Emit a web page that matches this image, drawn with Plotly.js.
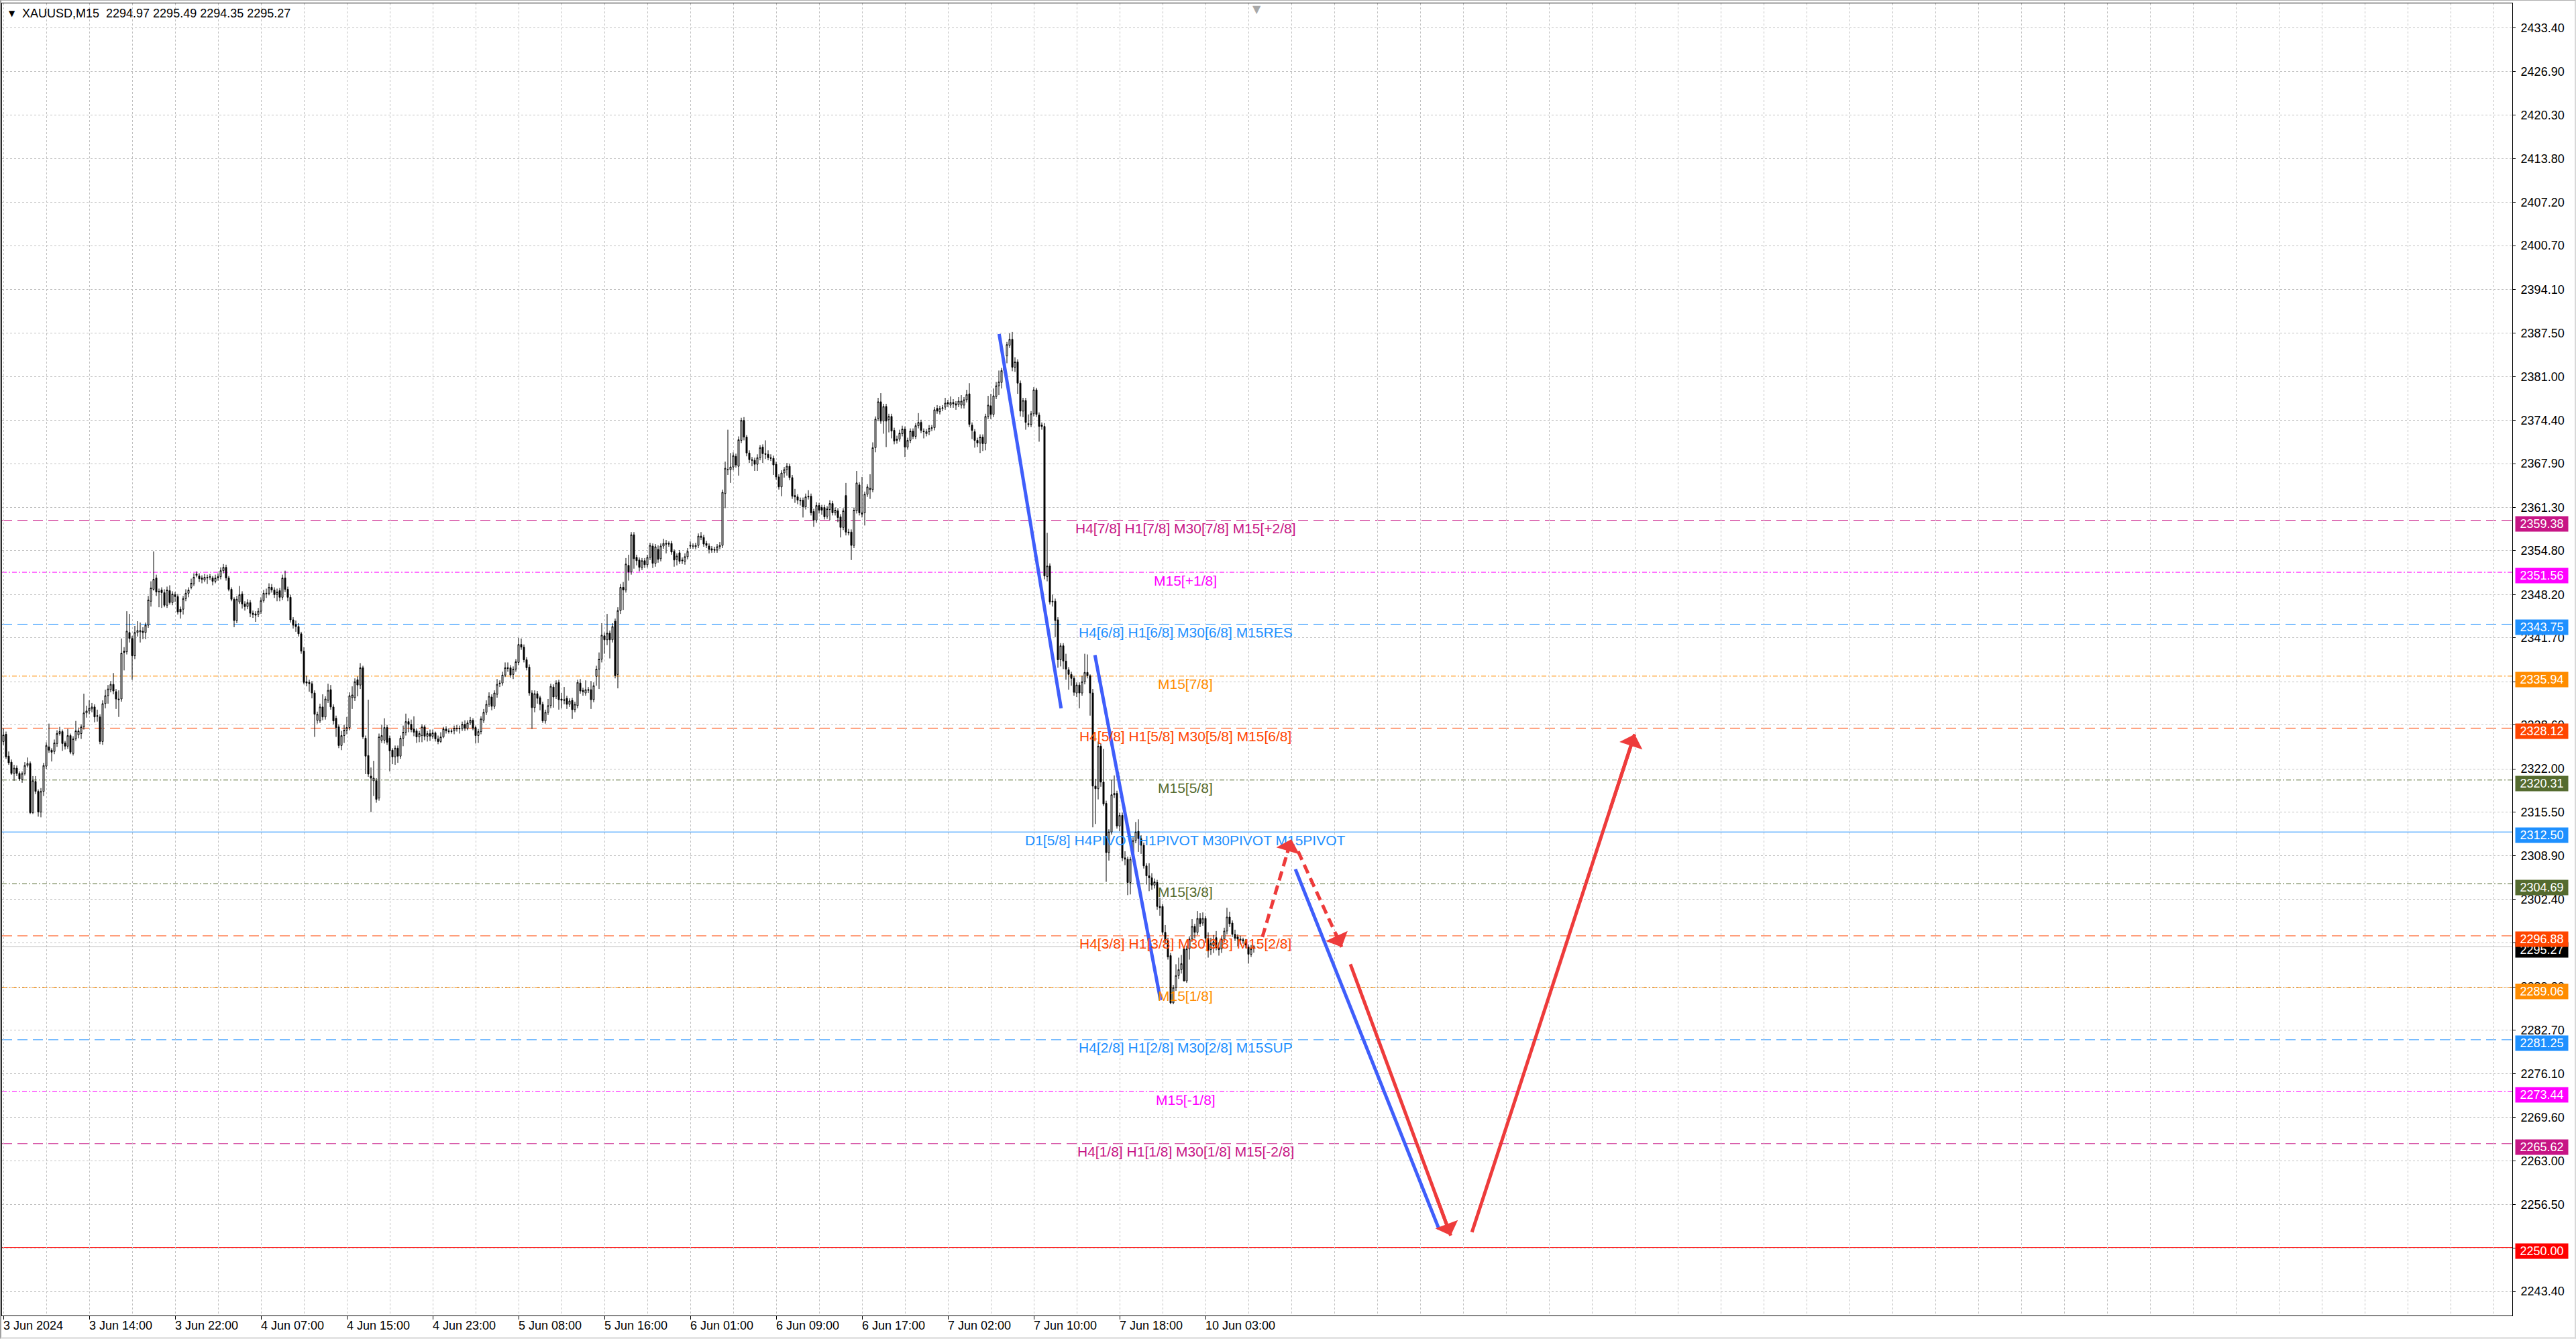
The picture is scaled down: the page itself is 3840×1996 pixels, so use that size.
<!DOCTYPE html>
<html>
<head>
<meta charset="utf-8">
<script src="https://cdn.plot.ly/plotly-3.0.1.min.js"></script>
<style>
  html, body { margin: 0; padding: 0; background: #ffffff; }
  #wrap { position: relative; width: 3840px; height: 1996px; }
  #chart { width: 3840px; height: 1996px; }
  #frame { position: absolute; left: 0; top: 0; width: 3840px; height: 1996px; box-sizing: border-box;
    border-left: 2px solid #a0a0a0; border-top: 1px solid #b0b0b0; border-right: 2px solid #d8d8d8;
    border-bottom: 3px solid #e4e4e4; pointer-events: none; }
</style>
</head>
<body>
<div id="wrap"><div id="chart"></div><div id="frame"></div></div>
<script>
// XAUUSD M15 bars (bar 0 = 3 Jun 2024 06:00)
var opens = [
  2326.1, 2327.2, 2323.9, 2323.0, 2321.3, 2322.1, 2321.3, 2320.4, 2321.3, 2322.5,
  2322.8, 2315.4, 2320.1, 2318.6, 2315.5, 2318.6, 2322.4, 2325.3, 2324.8, 2324.6,
  2325.8, 2327.3, 2327.6, 2325.9, 2325.4, 2327.0, 2324.3, 2326.5, 2327.1, 2327.3,
  2328.3, 2330.4, 2330.7, 2331.0, 2331.3, 2330.0, 2329.8, 2326.1, 2331.8, 2333.0,
  2333.9, 2334.7, 2333.6, 2332.5, 2332.5, 2339.7, 2339.6, 2342.5, 2341.6, 2339.0,
  2342.5, 2342.6, 2342.7, 2342.5, 2343.6, 2347.2, 2349.0, 2350.7, 2348.7, 2348.9,
  2348.5, 2346.6, 2348.8, 2347.0, 2348.2, 2347.9, 2346.0, 2346.0, 2347.6, 2348.4,
  2349.3, 2349.8, 2351.1, 2351.0, 2350.7, 2350.4, 2350.8, 2350.8, 2350.7, 2350.2,
  2350.7, 2350.9, 2351.8, 2352.3, 2350.7, 2349.0, 2347.5, 2344.3, 2347.1, 2348.3,
  2346.8, 2346.4, 2347.0, 2345.4, 2345.3, 2345.2, 2345.7, 2347.3, 2348.3, 2348.4,
  2349.3, 2348.9, 2348.2, 2348.8, 2347.8, 2350.7, 2349.0, 2347.8, 2344.4, 2343.7,
  2343.4, 2342.3, 2339.7, 2335.1, 2335.0, 2334.8, 2333.4, 2329.3,
  2329.2, 2331.3, 2329.8, 2332.3, 2333.9, 2331.3, 2329.6, 2328.3, 2325.5, 2327.0,
  2327.8, 2328.2, 2332.7, 2332.7, 2335.4, 2334.6, 2337.2, 2326.6, 2324.0, 2320.9,
  2320.2, 2320.2, 2317.6, 2326.3, 2326.3, 2328.2, 2326.6, 2324.8, 2323.8, 2325.1,
  2323.9, 2326.6, 2327.5, 2329.1, 2328.7, 2328.0, 2327.7, 2326.8, 2327.0, 2328.3,
  2326.9, 2327.3, 2326.9, 2327.4, 2326.5, 2326.1, 2326.8, 2328.0, 2327.7, 2327.6,
  2327.7, 2328.0, 2328.1, 2328.0, 2328.7, 2328.1, 2328.9, 2329.3, 2328.2, 2327.0,
  2327.6, 2329.3, 2330.5, 2331.7, 2332.8, 2331.4, 2333.2, 2334.9, 2334.9, 2336.1,
  2337.2, 2337.2, 2336.2, 2337.0, 2338.0, 2340.7, 2340.3, 2338.4, 2337.3, 2333.4,
  2331.2, 2333.3, 2332.7, 2331.7, 2329.2, 2330.5, 2331.5, 2334.3, 2332.9, 2335.0,
  2332.5, 2332.4, 2332.6, 2331.7, 2332.3, 2330.9, 2331.5, 2334.9, 2333.8, 2333.4,
  2333.8, 2333.9, 2332.4, 2335.9, 2337.0, 2338.5, 2342.0, 2341.4, 2342.4, 2341.4,
  2344.2, 2336.2, 2345.8, 2349.3, 2348.9, 2352.6, 2351.6, 2357.2, 2353.8, 2353.4,
  2352.3, 2353.3, 2352.7, 2353.8, 2355.5, 2352.9, 2355.0, 2353.6, 2355.5, 2355.9,
  2355.9, 2355.9, 2354.7, 2353.5, 2354.5, 2353.4, 2353.2, 2353.9, 2355.6, 2355.5,
  2355.4, 2355.6, 2357.0, 2356.8, 2355.9, 2355.5, 2355.1, 2355.0, 2354.9, 2355.4,
  2355.6, 2363.4, 2367.0, 2367.0, 2367.4, 2369.0, 2367.5, 2371.4, 2374.4, 2371.9,
  2369.5, 2368.5, 2368.4, 2367.8, 2368.8, 2370.4, 2369.4, 2369.3, 2368.8, 2368.7,
  2367.8, 2365.9, 2364.4, 2366.5, 2367.0, 2367.5, 2365.8, 2363.1, 2362.9, 2362.4,
  2362.4, 2361.4, 2363.0, 2363.0, 2360.7, 2359.4, 2361.6, 2361.3, 2361.3, 2360.0,
  2361.0, 2361.9, 2360.5, 2360.8, 2359.9, 2358.3, 2363.1, 2357.6, 2357.6, 2355.6,
  2360.8, 2364.7, 2360.5, 2360.5, 2363.3, 2364.0, 2364.0, 2370.3, 2374.7, 2377.2,
  2374.3, 2376.5, 2374.5, 2375.0, 2372.9, 2371.4, 2371.6, 2372.4, 2373.1, 2370.4,
  2371.4, 2372.8, 2372.0, 2373.6, 2374.1, 2372.8, 2372.4, 2372.7, 2373.2, 2373.3,
  2376.2, 2375.7, 2376.2, 2376.4, 2377.1, 2376.7, 2377.1, 2376.9, 2376.8, 2376.7,
  2376.7, 2377.5, 2378.4, 2373.7, 2372.7, 2371.4, 2371.0, 2371.9, 2370.9, 2375.0,
  2376.6, 2375.3, 2378.0, 2379.6, 2380.1, 2381.9, 2384.1, 2385.7, 2386.6, 2382.4,
  2383.2, 2380.0, 2375.8, 2377.4, 2373.9, 2373.8, 2375.4, 2379.0, 2375.2, 2373.7,
  2373.5, 2350.9, 2352.5, 2347.1, 2347.2, 2344.4, 2338.4, 2340.5, 2338.2, 2336.9,
  2336.2, 2335.6, 2333.4, 2334.6, 2333.4, 2335.1, 2336.5, 2336.0, 2333.4, 2319.4,
  2319.0, 2325.4, 2320.0, 2316.8, 2309.4, 2312.5, 2318.1, 2318.3, 2313.4, 2315.0,
  2308.6, 2308.4, 2304.9, 2308.4, 2311.2, 2312.6, 2311.5, 2310.5, 2307.4, 2305.9,
  2305.6, 2304.5, 2304.9, 2301.3, 2301.3, 2297.4, 2296.2, 2293.9, 2286.8, 2289.1,
  2290.9, 2291.8, 2294.9, 2290.1, 2294.9, 2296.4, 2298.3, 2297.4, 2299.5, 2298.8,
  2299.5, 2296.5, 2294.8, 2295.4, 2296.6, 2295.1, 2294.9, 2296.4, 2297.6, 2299.7,
  2298.8, 2297.1, 2296.7, 2296.4, 2296.3, 2296.0, 2295.2, 2294.1, 2294.97
];
var highs = [
  2328.1, 2327.6, 2324.6, 2323.4, 2322.6, 2322.5, 2321.6, 2321.6, 2323.0, 2323.7,
  2323.1, 2320.9, 2320.9, 2318.9, 2319.1, 2322.9, 2326.0, 2328.8, 2325.1, 2326.4,
  2327.8, 2328.3, 2327.9, 2326.2, 2328.0, 2327.3, 2326.9, 2329.2, 2328.2, 2328.7,
  2333.3, 2331.5, 2332.3, 2331.9, 2331.7, 2330.9, 2330.2, 2332.3, 2333.9, 2334.6,
  2335.2, 2336.4, 2334.0, 2333.8, 2341.6, 2340.3, 2345.7, 2345.3, 2342.0, 2343.5,
  2344.2, 2344.0, 2343.3, 2344.0, 2348.0, 2350.2, 2354.7, 2351.2, 2349.1, 2349.3,
  2349.0, 2349.4, 2349.6, 2348.7, 2348.6, 2348.3, 2346.4, 2348.0, 2349.0, 2349.3,
  2350.6, 2351.4, 2351.7, 2351.4, 2351.1, 2351.3, 2351.2, 2351.3, 2351.0, 2351.2,
  2351.4, 2352.3, 2352.8, 2352.7, 2351.0, 2349.3, 2347.8, 2348.0, 2349.5, 2348.7,
  2347.2, 2347.5, 2347.4, 2345.8, 2345.7, 2346.2, 2347.8, 2348.9, 2349.1, 2349.9,
  2349.8, 2349.3, 2349.1, 2349.2, 2351.2, 2351.8, 2349.4, 2348.2, 2344.8, 2344.3,
  2343.9, 2342.6, 2340.3, 2336.0, 2335.4, 2335.2, 2333.8, 2330.6,
  2331.8, 2333.2, 2332.9, 2334.8, 2334.6, 2331.7, 2330.0, 2328.7, 2327.7, 2328.6,
  2329.8, 2333.5, 2334.4, 2335.6, 2335.9, 2337.9, 2337.5, 2327.0, 2332.4, 2322.2,
  2323.2, 2320.6, 2327.3, 2328.6, 2329.6, 2328.6, 2327.0, 2325.1, 2325.5, 2325.5,
  2327.0, 2328.5, 2330.3, 2329.6, 2329.4, 2329.9, 2328.1, 2327.7, 2328.7, 2328.6,
  2327.7, 2327.9, 2327.9, 2327.6, 2327.0, 2327.5, 2328.3, 2328.4, 2328.1, 2328.0,
  2328.5, 2328.6, 2328.5, 2329.1, 2329.3, 2329.3, 2329.8, 2329.6, 2328.5, 2328.0,
  2329.9, 2331.0, 2332.3, 2333.5, 2333.2, 2333.8, 2335.5, 2335.3, 2336.6, 2338.0,
  2338.0, 2337.6, 2337.4, 2338.5, 2341.7, 2341.6, 2340.7, 2338.8, 2337.7, 2333.8,
  2333.8, 2333.7, 2333.0, 2332.1, 2330.9, 2332.5, 2334.8, 2334.7, 2335.3, 2335.4,
  2333.4, 2334.3, 2333.0, 2332.6, 2332.7, 2332.1, 2335.4, 2335.5, 2334.2, 2335.3,
  2334.3, 2335.2, 2335.0, 2337.5, 2339.5, 2343.9, 2342.5, 2345.3, 2342.8, 2343.9,
  2344.6, 2346.3, 2349.8, 2350.1, 2353.7, 2354.2, 2357.6, 2357.6, 2354.2, 2353.8,
  2353.7, 2353.7, 2354.2, 2356.0, 2355.9, 2355.8, 2355.6, 2355.9, 2356.6, 2356.4,
  2356.2, 2356.3, 2355.0, 2354.4, 2354.9, 2353.8, 2354.4, 2355.2, 2356.2, 2355.9,
  2356.0, 2357.4, 2357.6, 2357.2, 2356.3, 2355.9, 2355.5, 2355.4, 2355.8, 2356.1,
  2364.0, 2368.2, 2373.0, 2369.5, 2369.6, 2369.4, 2372.0, 2374.8, 2374.9, 2372.2,
  2369.9, 2368.9, 2368.8, 2369.3, 2370.7, 2370.8, 2371.4, 2369.9, 2369.3, 2369.1,
  2368.2, 2366.3, 2366.9, 2367.4, 2368.0, 2367.9, 2366.2, 2364.1, 2363.3, 2362.8,
  2362.8, 2363.4, 2363.9, 2363.4, 2361.1, 2362.1, 2362.0, 2361.7, 2361.7, 2361.5,
  2362.4, 2362.3, 2361.3, 2361.2, 2360.3, 2361.2, 2365.0, 2358.1, 2358.0, 2361.3,
  2366.8, 2365.1, 2365.9, 2363.7, 2364.8, 2366.3, 2371.1, 2375.0, 2377.8, 2378.5,
  2376.9, 2376.9, 2375.4, 2375.4, 2373.3, 2372.1, 2373.0, 2373.6, 2373.5, 2371.8,
  2373.2, 2373.2, 2374.0, 2375.5, 2374.5, 2373.2, 2373.1, 2373.7, 2373.7, 2376.4,
  2376.7, 2376.6, 2376.7, 2377.8, 2377.5, 2378.0, 2377.6, 2377.3, 2377.9, 2378.2,
  2377.9, 2379.0, 2380.0, 2374.1, 2373.1, 2371.8, 2372.3, 2372.3, 2375.4, 2378.1,
  2378.4, 2379.2, 2380.2, 2381.9, 2382.3, 2383.6, 2386.2, 2387.5, 2387.7, 2383.9,
  2383.6, 2380.4, 2377.8, 2377.8, 2375.3, 2375.8, 2379.4, 2379.3, 2375.6, 2374.1,
  2374.0, 2357.5, 2352.9, 2348.2, 2347.6, 2344.8, 2340.9, 2340.9, 2339.3, 2337.3,
  2336.6, 2336.0, 2335.0, 2335.0, 2336.0, 2339.3, 2339.2, 2336.2, 2334.0, 2320.5,
  2326.1, 2325.8, 2325.0, 2317.2, 2312.9, 2320.3, 2321.0, 2318.7, 2315.4, 2315.4,
  2309.6, 2308.8, 2308.8, 2311.7, 2314.0, 2314.4, 2312.0, 2310.9, 2307.8, 2307.8,
  2306.3, 2305.5, 2305.3, 2302.6, 2301.7, 2298.5, 2296.6, 2294.3, 2289.5, 2292.6,
  2293.6, 2294.0, 2295.3, 2295.4, 2296.8, 2299.4, 2298.7, 2300.6, 2300.3, 2300.4,
  2299.9, 2297.4, 2296.6, 2297.0, 2297.6, 2295.9, 2296.8, 2298.1, 2301.1, 2300.5,
  2299.2, 2297.8, 2297.1, 2296.9, 2296.6, 2296.4, 2295.6, 2295.5, 2295.49
];
var lows = [
  2325.6, 2323.5, 2322.6, 2321.1, 2320.2, 2320.9, 2320.2, 2319.9, 2321.0, 2322.2,
  2315.2, 2315.2, 2318.2, 2314.8, 2314.7, 2317.9, 2322.0, 2324.4, 2323.1, 2324.2,
  2325.3, 2327.0, 2324.7, 2324.9, 2325.0, 2324.2, 2324.0, 2326.2, 2326.6, 2326.5,
  2327.9, 2329.7, 2330.2, 2330.5, 2329.0, 2329.1, 2325.7, 2325.6, 2331.1, 2331.8,
  2333.5, 2333.2, 2331.0, 2329.8, 2332.1, 2336.8, 2339.2, 2341.0, 2335.4, 2338.5,
  2341.9, 2341.0, 2341.5, 2341.5, 2343.2, 2346.4, 2348.8, 2348.0, 2346.3, 2346.2,
  2346.3, 2346.2, 2346.7, 2346.6, 2347.1, 2345.2, 2344.6, 2345.2, 2347.2, 2347.8,
  2349.0, 2349.5, 2350.8, 2350.1, 2349.9, 2350.1, 2349.8, 2350.4, 2349.6, 2349.9,
  2350.3, 2350.5, 2351.4, 2350.3, 2348.7, 2347.2, 2343.3, 2343.9, 2346.8, 2346.1,
  2345.8, 2346.0, 2344.8, 2344.7, 2344.1, 2344.8, 2345.3, 2347.0, 2347.7, 2348.1,
  2348.5, 2347.7, 2347.2, 2347.2, 2347.4, 2348.6, 2347.2, 2344.0, 2343.1, 2342.6,
  2341.9, 2339.3, 2334.7, 2334.4, 2333.6, 2332.6, 2326.8, 2328.8,
  2328.9, 2329.3, 2329.4, 2331.9, 2330.9, 2328.7, 2326.8, 2325.1, 2324.8, 2325.9,
  2327.2, 2327.8, 2331.0, 2332.2, 2332.9, 2334.0, 2326.5, 2321.2, 2320.8, 2315.5,
  2317.9, 2316.9, 2317.2, 2325.9, 2325.8, 2325.6, 2321.6, 2322.7, 2322.6, 2322.9,
  2323.5, 2325.4, 2327.0, 2327.5, 2327.5, 2326.9, 2325.9, 2326.0, 2326.0, 2326.3,
  2326.1, 2326.2, 2326.5, 2326.1, 2325.7, 2325.9, 2326.6, 2327.3, 2327.3, 2327.3,
  2327.2, 2327.6, 2327.3, 2327.7, 2327.7, 2327.8, 2328.6, 2327.8, 2325.8, 2325.9,
  2327.2, 2328.9, 2330.1, 2331.3, 2330.8, 2331.0, 2332.7, 2334.3, 2334.5, 2335.8,
  2336.6, 2335.7, 2335.5, 2336.6, 2337.6, 2339.9, 2338.0, 2336.8, 2333.0, 2328.0,
  2330.5, 2331.8, 2330.8, 2328.9, 2328.8, 2330.1, 2331.1, 2331.2, 2332.5, 2330.9,
  2331.1, 2331.7, 2331.0, 2331.3, 2329.5, 2330.5, 2331.1, 2333.3, 2333.0, 2333.0,
  2333.4, 2331.0, 2332.0, 2334.5, 2334.0, 2338.0, 2339.3, 2340.6, 2338.6, 2341.0,
  2335.6, 2334.1, 2345.3, 2345.9, 2348.5, 2350.3, 2351.2, 2352.1, 2352.6, 2351.7,
  2351.9, 2352.2, 2352.3, 2353.4, 2352.2, 2352.4, 2353.0, 2353.2, 2355.1, 2354.4,
  2355.4, 2354.2, 2352.4, 2352.6, 2352.8, 2352.8, 2352.7, 2353.5, 2355.1, 2355.1,
  2355.0, 2355.2, 2356.4, 2355.4, 2355.2, 2354.4, 2354.5, 2354.5, 2354.5, 2355.0,
  2355.2, 2361.2, 2366.2, 2365.0, 2366.9, 2367.3, 2366.1, 2371.0, 2371.4, 2369.0,
  2368.0, 2367.5, 2366.8, 2366.8, 2368.4, 2368.0, 2368.6, 2368.4, 2368.3, 2366.2,
  2365.5, 2364.0, 2363.0, 2365.8, 2366.1, 2365.4, 2362.6, 2362.0, 2361.8, 2361.6,
  2359.8, 2361.0, 2362.5, 2360.1, 2358.4, 2359.0, 2360.4, 2360.2, 2359.5, 2359.6,
  2359.4, 2360.1, 2360.1, 2359.1, 2356.8, 2357.9, 2357.1, 2357.1, 2353.4, 2355.2,
  2360.4, 2360.1, 2359.8, 2358.6, 2362.9, 2362.6, 2363.6, 2369.6, 2374.3, 2373.9,
  2372.4, 2370.4, 2372.6, 2371.7, 2370.8, 2370.9, 2371.2, 2372.0, 2368.9, 2370.0,
  2371.0, 2371.6, 2371.6, 2373.2, 2372.5, 2371.7, 2372.0, 2372.2, 2372.8, 2372.9,
  2375.4, 2375.3, 2375.8, 2376.0, 2376.4, 2376.3, 2376.3, 2376.0, 2376.4, 2376.2,
  2376.2, 2377.1, 2373.4, 2371.6, 2370.3, 2370.4, 2369.5, 2369.8, 2369.9, 2374.6,
  2374.6, 2374.9, 2377.6, 2378.2, 2379.2, 2381.5, 2383.0, 2385.3, 2381.8, 2381.7,
  2378.4, 2375.0, 2374.9, 2373.0, 2373.4, 2373.4, 2375.0, 2374.9, 2371.2, 2373.0,
  2350.5, 2350.2, 2346.7, 2346.4, 2341.8, 2337.2, 2337.4, 2337.0, 2335.4, 2333.9,
  2334.5, 2333.0, 2332.8, 2331.1, 2333.0, 2334.7, 2335.6, 2330.0, 2313.2, 2313.7,
  2317.4, 2319.3, 2316.4, 2305.0, 2308.2, 2312.1, 2317.6, 2313.0, 2312.6, 2308.1,
  2307.5, 2303.0, 2303.1, 2308.0, 2310.8, 2309.5, 2309.2, 2307.0, 2304.6, 2303.6,
  2303.8, 2304.0, 2300.8, 2299.9, 2297.0, 2295.6, 2293.3, 2286.6, 2286.6, 2288.6,
  2290.4, 2291.2, 2290.0, 2289.8, 2293.3, 2296.0, 2296.5, 2297.0, 2298.2, 2298.4,
  2295.8, 2293.6, 2294.0, 2294.3, 2294.7, 2293.9, 2294.3, 2295.9, 2297.1, 2298.2,
  2296.7, 2296.1, 2295.3, 2295.6, 2295.7, 2295.0, 2292.7, 2293.7, 2294.35
];
var closes = [
  2327.1, 2323.8, 2322.9, 2321.3, 2322.1, 2321.3, 2320.5, 2321.3, 2322.5, 2322.8,
  2315.4, 2320.2, 2318.6, 2315.5, 2318.6, 2322.5, 2325.5, 2324.8, 2324.5, 2325.9,
  2327.3, 2327.6, 2325.8, 2325.4, 2327.0, 2324.5, 2326.5, 2327.7, 2327.7, 2328.3,
  2330.4, 2330.7, 2331.1, 2331.3, 2329.8, 2329.9, 2326.1, 2331.8, 2333.0, 2334.0,
  2334.7, 2333.7, 2332.5, 2332.4, 2339.4, 2339.5, 2342.7, 2341.6, 2339.0, 2342.5,
  2342.8, 2342.8, 2342.5, 2343.6, 2347.4, 2349.2, 2350.5, 2348.6, 2348.6, 2348.5,
  2346.6, 2348.9, 2347.0, 2348.3, 2347.9, 2345.6, 2345.6, 2347.6, 2348.4, 2348.9,
  2349.9, 2350.8, 2351.3, 2350.6, 2350.5, 2350.8, 2350.7, 2350.9, 2350.2, 2350.7,
  2350.9, 2351.8, 2352.3, 2350.7, 2349.0, 2347.5, 2344.3, 2347.5, 2348.2, 2346.8,
  2346.4, 2347.0, 2345.4, 2345.2, 2345.1, 2345.7, 2347.3, 2348.4, 2348.4, 2349.3,
  2348.9, 2348.2, 2348.6, 2347.8, 2350.7, 2349.0, 2347.8, 2344.4, 2343.6, 2343.4,
  2342.3, 2339.7, 2335.0, 2334.9, 2334.8, 2333.4, 2330.2, 2330.2,
  2331.3, 2329.8, 2332.5, 2333.8, 2331.3, 2329.2, 2328.2, 2325.5, 2327.0, 2327.8,
  2328.2, 2333.0, 2333.1, 2335.1, 2334.6, 2337.2, 2326.8, 2323.9, 2321.2, 2320.6,
  2320.6, 2317.4, 2326.8, 2327.0, 2328.2, 2326.0, 2324.7, 2323.8, 2325.1, 2323.9,
  2326.6, 2327.5, 2329.1, 2328.7, 2327.9, 2327.5, 2326.8, 2327.3, 2328.3, 2326.9,
  2327.3, 2326.9, 2327.4, 2326.5, 2326.1, 2326.8, 2328.0, 2327.7, 2327.6, 2327.7,
  2328.1, 2328.1, 2328.0, 2328.7, 2328.1, 2328.9, 2329.3, 2328.1, 2327.0, 2327.6,
  2329.5, 2330.5, 2331.7, 2332.9, 2331.4, 2333.4, 2334.7, 2334.8, 2336.1, 2337.2,
  2337.1, 2336.1, 2337.0, 2338.1, 2340.7, 2340.3, 2338.4, 2337.2, 2333.4, 2331.2,
  2333.3, 2332.6, 2331.7, 2329.2, 2330.5, 2331.5, 2334.4, 2332.8, 2334.9, 2332.4,
  2332.3, 2332.3, 2331.7, 2332.2, 2330.9, 2331.7, 2335.0, 2333.7, 2333.6, 2333.9,
  2333.9, 2332.4, 2334.5, 2337.0, 2338.5, 2342.1, 2341.4, 2342.4, 2341.4, 2343.4,
  2336.0, 2345.8, 2349.3, 2348.9, 2352.8, 2351.6, 2357.2, 2353.6, 2353.3, 2352.3,
  2353.3, 2352.7, 2353.8, 2355.6, 2352.9, 2355.4, 2353.5, 2355.5, 2355.9, 2355.8,
  2355.8, 2354.6, 2353.4, 2354.0, 2353.2, 2353.3, 2353.9, 2354.7, 2355.5, 2355.5,
  2355.6, 2357.0, 2356.8, 2355.8, 2355.6, 2355.0, 2354.9, 2354.9, 2355.4, 2355.6,
  2363.6, 2367.2, 2367.0, 2367.4, 2369.1, 2367.7, 2371.5, 2374.4, 2371.9, 2369.5,
  2368.5, 2368.4, 2367.8, 2368.8, 2370.3, 2369.4, 2369.3, 2368.8, 2368.7, 2367.7,
  2365.9, 2364.4, 2366.5, 2367.0, 2367.5, 2365.8, 2363.0, 2362.9, 2362.4, 2362.3,
  2361.4, 2362.9, 2362.9, 2360.5, 2359.4, 2361.6, 2360.9, 2360.9, 2359.9, 2361.1,
  2361.9, 2360.5, 2360.9, 2359.8, 2358.3, 2360.8, 2357.6, 2357.5, 2355.6, 2360.9,
  2365.0, 2360.5, 2360.3, 2363.3, 2364.4, 2364.2, 2370.3, 2374.6, 2377.2, 2374.3,
  2376.5, 2374.3, 2375.0, 2372.8, 2371.3, 2371.6, 2372.5, 2373.1, 2370.4, 2371.4,
  2372.8, 2372.0, 2373.6, 2374.1, 2372.9, 2372.7, 2372.7, 2373.2, 2373.3, 2376.0,
  2375.8, 2376.2, 2376.3, 2377.0, 2376.9, 2377.1, 2376.9, 2376.7, 2377.3, 2377.3,
  2377.5, 2378.3, 2373.8, 2372.9, 2371.4, 2371.0, 2371.9, 2370.9, 2375.0, 2376.7,
  2375.3, 2378.1, 2379.6, 2380.2, 2381.9, 2383.0, 2385.8, 2386.6, 2382.4, 2383.2,
  2380.0, 2375.8, 2377.4, 2374.1, 2373.8, 2375.4, 2379.0, 2375.3, 2373.5, 2373.5,
  2351.0, 2352.5, 2347.1, 2347.2, 2344.3, 2338.4, 2340.5, 2338.2, 2337.0, 2336.2,
  2335.6, 2333.5, 2334.6, 2333.4, 2335.1, 2336.5, 2336.0, 2333.4, 2319.4, 2319.0,
  2325.4, 2320.0, 2316.7, 2309.4, 2312.5, 2318.1, 2318.3, 2313.4, 2315.0, 2308.6,
  2308.4, 2304.9, 2308.4, 2311.2, 2312.5, 2311.5, 2310.5, 2307.4, 2305.9, 2305.6,
  2304.5, 2305.0, 2301.3, 2301.1, 2297.4, 2296.2, 2293.7, 2286.8, 2289.1, 2290.9,
  2291.8, 2292.7, 2290.1, 2294.9, 2296.4, 2298.3, 2297.4, 2299.5, 2298.7, 2299.5,
  2296.5, 2294.6, 2295.7, 2296.0, 2295.1, 2294.8, 2296.4, 2297.6, 2299.7, 2298.7,
  2297.1, 2296.5, 2296.4, 2296.2, 2296.1, 2295.5, 2294.1, 2294.9, 2295.27
];

// time axis labels (one every 32 bars)
var tickBars = [0, 32, 64, 96, 128, 160, 192, 224, 256, 288, 320, 352, 384, 416, 448];
var tickLabels = ['3 Jun 2024', '3 Jun 14:00', '3 Jun 22:00', '4 Jun 07:00', '4 Jun 15:00',
  '4 Jun 23:00', '5 Jun 08:00', '5 Jun 16:00', '6 Jun 01:00', '6 Jun 09:00',
  '6 Jun 17:00', '7 Jun 02:00', '7 Jun 10:00', '7 Jun 18:00', '10 Jun 03:00'];

// price scale labels; the ones fully hidden behind level boxes are left blank
var priceTicks = ['2243.40', '2249.90', '2256.50', '2263.00', '2269.60', '2276.10', '2282.70',
  '2289.20', '2295.80', '2302.40', '2308.90', '2315.50', '2322.00', '2328.60', '2335.10',
  '2341.70', '2348.20', '2354.80', '2361.30', '2367.90', '2374.40', '2381.00', '2387.50',
  '2394.10', '2400.70', '2407.20', '2413.80', '2420.30', '2426.90', '2433.40'];
var hiddenTicks = ['2249.90', '2295.80', '2335.10'];

// Murrey math levels
var levelPrices = [2359.38, 2351.56, 2343.75, 2335.94, 2328.12, 2320.31, 2312.50,
  2304.69, 2296.88, 2289.06, 2281.25, 2273.44, 2265.62, 2250.00];
var levelNames = ['H4[7/8] H1[7/8] M30[7/8] M15[+2/8]', 'M15[+1/8]',
  'H4[6/8] H1[6/8] M30[6/8] M15RES', 'M15[7/8]', 'H4[5/8] H1[5/8] M30[5/8] M15[6/8]',
  'M15[5/8]', 'D1[5/8] H4PIVOT H1PIVOT M30PIVOT M15PIVOT', 'M15[3/8]',
  'H4[3/8] H1[3/8] M30[3/8] M15[2/8]', 'M15[1/8]', 'H4[2/8] H1[2/8] M30[2/8] M15SUP',
  'M15[-1/8]', 'H4[1/8] H1[1/8] M30[1/8] M15[-2/8]', ''];
var bidPrice = 2295.27;

// hand drawn trend lines and arrows (bar, price)
var blueX = [[371.1, 394.2], [406.8, 431.25], [481.5, 535.0]];
var blueY = [[2387.4, 2331.1], [2339.1, 2287.2], [2306.9, 2252.8]];
var redX = [[469.2, 480.0], [482.5, 498.75], [502.0, 539.4], [547.3, 607.95]];
var redY = [[2296.7, 2311.4], [2309.6, 2295.2], [2292.6, 2251.8], [2252.3, 2327.2]];
var redDashed = [true, true, false, false];

// styles per level (same order as levelPrices)
var DASH = '15px,8px', DASHDOT = '7px,3px,2px,3px';
var levelColors = ['#C71585', '#FF00FF', '#1E90FF', '#FF8C00', '#FF4500', '#556B2F', '#1E90FF',
  '#556B2F', '#FF4500', '#FF8C00', '#1E90FF', '#FF00FF', '#C71585', '#FF0000'];
var levelDashes = [DASH, DASHDOT, DASH, DASHDOT, DASH, DASHDOT, 'solid',
  DASHDOT, DASH, DASHDOT, DASH, DASHDOT, DASH, 'solid'];

var FONT = 'Liberation Sans, Arial, sans-serif';
var BLUE = '#3F5EFB';
var RED = '#EE3B3B';
var GRID = '#c0c0c0';

var bars = opens.map(function (v, i) { return i; });

var data = [{
  type: 'candlestick',
  x: bars, open: opens, high: highs, low: lows, close: closes,
  increasing: { line: { color: '#000000', width: 1 }, fillcolor: '#ffffff' },
  decreasing: { line: { color: '#000000', width: 1 }, fillcolor: '#000000' },
  whiskerwidth: 0,
  hoverinfo: 'skip'
}];

blueX.forEach(function (xs, i) {
  data.push({ type: 'scatter', mode: 'lines', x: xs, y: blueY[i],
    line: { color: BLUE, width: 5 }, hoverinfo: 'skip' });
});
redX.forEach(function (xs, i) {
  data.push({ type: 'scatter', mode: 'lines', x: xs, y: redY[i],
    line: { color: RED, width: 5, dash: redDashed[i] ? '14px,8px' : 'solid' },
    hoverinfo: 'skip' });
});

var shapes = [];
var annotations = [];

levelPrices.forEach(function (p, i) {
  shapes.push({ type: 'line', xref: 'paper', x0: 0, x1: 1, yref: 'y', y0: p, y1: p,
    layer: 'between', line: { color: levelColors[i], width: 1, dash: levelDashes[i] } });
});
shapes.push({ type: 'line', xref: 'paper', x0: 0, x1: 1, yref: 'y', y0: bidPrice, y1: bidPrice,
  layer: 'between', line: { color: '#c0c0c0', width: 1 } });

// level captions in the middle of the chart
levelPrices.forEach(function (p, i) {
  if (!levelNames[i]) return;
  annotations.push({ x: 440.5, y: p, xref: 'x', yref: 'y', text: levelNames[i],
    showarrow: false, xanchor: 'center', yanchor: 'middle', yshift: -12, borderpad: 0,
    font: { family: FONT, size: 21, color: levelColors[i] } });
});

// price boxes on the right scale: bid first so the level box overlaps it
function priceBox(p, bg) {
  annotations.push({ x: 1, xref: 'paper', y: p, yref: 'y', text: p.toFixed(2),
    showarrow: false, xanchor: 'left', yanchor: 'middle', xshift: 4, yshift: -5,
    width: 72, height: 16, borderpad: 3, bgcolor: bg, align: 'center',
    font: { family: FONT, size: 18, color: '#ffffff' } });
}
priceBox(bidPrice, '#000000');
levelPrices.forEach(function (p, i) { priceBox(p, levelColors[i]); });

// time labels, left aligned on their tick
tickBars.forEach(function (b, i) {
  annotations.push({ x: b, xref: 'x', y: 0, yref: 'paper', text: tickLabels[i],
    showarrow: false, xanchor: 'left', yanchor: 'top', yshift: -4, xshift: -1, borderpad: 0,
    font: { family: FONT, size: 18, color: '#000000' } });
});

// arrow heads at the end of the red lines
redX.forEach(function (xs, i) {
  var ys = redY[i];
  annotations.push({ x: xs[1], y: ys[1], xref: 'x', yref: 'y',
    ax: xs[1] - (xs[1] - xs[0]) * 0.15, ay: ys[1] - (ys[1] - ys[0]) * 0.15,
    axref: 'x', ayref: 'y', text: '', showarrow: true,
    arrowhead: 1, arrowsize: 1.2, arrowwidth: 5, arrowcolor: RED, standoff: 0 });
});

// header
annotations.push({ x: 0, xref: 'paper', y: 1, yref: 'paper', xanchor: 'center', yanchor: 'middle',
  xshift: 15, yshift: -15, text: '\u25BC', showarrow: false,
  font: { family: 'DejaVu Sans', size: 12, color: '#000000' } });
annotations.push({ x: 0, xref: 'paper', y: 1, yref: 'paper', xanchor: 'left', yanchor: 'middle',
  xshift: 28, yshift: -15, showarrow: false,
  text: 'XAUUSD,M15\u00A0 2294.97 2295.49 2294.35 2295.27',
  font: { family: FONT, size: 18, color: '#000000' } });
// chart shift marker
annotations.push({ x: 467, xref: 'x', y: 1, yref: 'paper', xanchor: 'center', yanchor: 'top',
  yshift: 3, text: '\u25BC', showarrow: false,
  font: { family: 'DejaVu Sans', size: 16, color: '#a8a8a8' } });

// grid every 16 bars where no labelled tick sits
var gridBars = [];
for (var b = 16; b <= 928; b += 16) {
  if (tickBars.indexOf(b) < 0) gridBars.push(b);
}

var layout = {
  width: 3840, height: 1996,
  margin: { l: 3, r: 95, t: 5, b: 35 },
  paper_bgcolor: '#ffffff', plot_bgcolor: '#ffffff',
  showlegend: false,
  hovermode: false,
  xaxis: {
    range: [-0.5, 935], fixedrange: true,
    tickmode: 'array', tickvals: tickBars, showticklabels: false,
    ticks: 'outside', ticklen: 5, tickcolor: '#000000', tickwidth: 1,
    showgrid: true, gridcolor: GRID, griddash: '3px,3px', gridwidth: 1,
    minor: { tickmode: 'array', tickvals: gridBars, showgrid: true, gridcolor: GRID,
      griddash: '3px,3px', gridwidth: 1, ticks: '' },
    showline: true, linecolor: '#000000', linewidth: 1, mirror: true,
    zeroline: false,
    rangeslider: { visible: false }
  },
  yaxis: {
    side: 'right', range: [2239.77, 2437.13], fixedrange: true,
    tickmode: 'array', tickvals: priceTicks.map(Number),
    ticktext: priceTicks.map(function (t) { return hiddenTicks.indexOf(t) < 0 ? t : ''; }),
    ticks: 'outside', ticklen: 4, tickcolor: '#000000', ticklabelstandoff: 4,
    tickfont: { family: FONT, size: 18, color: '#000000' },
    showgrid: true, gridcolor: GRID, griddash: '3px,3px', gridwidth: 1,
    showline: true, linecolor: '#000000', linewidth: 1, mirror: true,
    zeroline: false
  },
  shapes: shapes,
  annotations: annotations
};

var config = { displayModeBar: false, staticPlot: true };

Plotly.newPlot('chart', data, layout, config);
</script>
</body>
</html>
